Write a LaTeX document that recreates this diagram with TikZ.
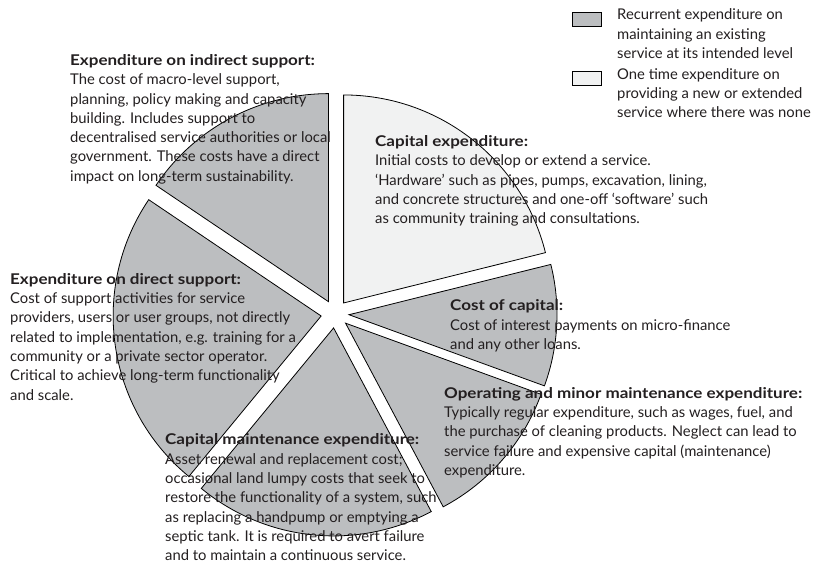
\documentclass[tikz,border=0pt]{standalone}
\usepackage{fontspec}
\setmainfont{Lato}
\usepackage{tikz}
\usetikzlibrary{calc}
\usepackage{xcolor}
\definecolor{recurrent}{RGB}{188,190,192}
\definecolor{onetime}{RGB}{241,242,242}
\definecolor{ink}{RGB}{35,31,32}
% headings are set a little wider than plain Lato bold
\newcommand{\costhead}[1]{{\bfseries\addfontfeature{FakeStretch=1.15}#1}}

\begin{document}
\begin{tikzpicture}[x=1pt, y=1pt,
    wedge/.style={draw=black, line width=0.8pt, line join=miter},
    costtext/.style={anchor=base west, inner sep=0pt, align=left, text=ink,
      font=\fontsize{14.8}{19.3}\selectfont},
    keybox/.style={draw=black, line width=0.8pt, minimum width=29pt,
      minimum height=14pt, inner sep=0pt}]
    \useasboundingbox (0,0) rectangle (815,564);

    % pie centre; every wedge is pushed 14pt out along its bisector
    \coordinate (c) at (335,250);

    % capital expenditure (one time)
    \filldraw[wedge, fill=onetime] ($(c)+(52:14pt)$) -- ++(14:208pt)
      arc[start angle=14, end angle=90, radius=208pt] -- cycle;
    % indirect support
    \filldraw[wedge, fill=recurrent] ($(c)+(118:14pt)$) -- ++(90:208pt)
      arc[start angle=90, end angle=146, radius=208pt] -- cycle;
    % direct support
    \filldraw[wedge, fill=recurrent] ($(c)+(188.25:14pt)$) -- ++(146:208pt)
      arc[start angle=146, end angle=230.5, radius=208pt] -- cycle;
    % capital maintenance
    \filldraw[wedge, fill=recurrent] ($(c)+(264.25:14pt)$) -- ++(230.5:208pt)
      arc[start angle=230.5, end angle=298, radius=208pt] -- cycle;
    % operating and minor maintenance
    \filldraw[wedge, fill=recurrent] ($(c)+(319:14pt)$) -- ++(298:208pt)
      arc[start angle=298, end angle=340, radius=208pt] -- cycle;
    % cost of capital
    \filldraw[wedge, fill=recurrent] ($(c)+(357:14pt)$) -- ++(340:208pt)
      arc[start angle=340, end angle=374, radius=208pt] -- cycle;

    % descriptions (anchored on the baseline of their last line)
    \node[costtext] (indirect) at (70,382.7) {\costhead{Expenditure on indirect support:}\\
      The cost of macro-level support,\\
      planning, policy making and capacity\\
      building. Includes support to\\
      decentralised service authorities or local\\
      government. These costs have a direct\\
      impact on long-term sustainability.};
    \node[costtext] (capex) at (375,340.3) {\costhead{Capital expenditure:}\\
      Initial costs to develop or extend a service.\\
      ‘Hardware’ such as pipes, pumps, excavation, lining,\\
      and concrete structures and one-off ‘software’ such\\
      as community training and consultations.};
    \node[costtext] (direct) at (10,163.9) {\costhead{Expenditure on direct support:}\\
      Cost of support activities for service\\
      providers, users or user groups, not directly\\
      related to implementation, e.g. training for a\\
      community or a private sector operator.\\
      Critical to achieve long-term functionality\\
      and scale.};
    \node[costtext] (capcost) at (450,214.4) {\costhead{Cost of capital:}\\
      Cost of interest payments on micro-finance\\
      and any other loans.};
    \node[costtext] (opex) at (444,88.5) {\costhead{Operating and minor maintenance expenditure:}\\
      Typically regular expenditure, such as wages, fuel, and\\
      the purchase of cleaning products. Neglect can lead to\\
      service failure and expensive capital (maintenance)\\
      expenditure.};
    \node[costtext] (capmain) at (165,3.2) {\costhead{Capital maintenance expenditure:}\\
      Asset renewal and replacement cost;\\
      occasional land lumpy costs that seek to\\
      restore the functionality of a system, such\\
      as replacing a handpump or emptying a\\
      septic tank. It is required to avert failure\\
      and to maintain a continuous service.};

    % key
    \node[keybox, fill=recurrent] (keyrec) at (587.2,544.3) {};
    \node[keybox, fill=onetime] (keyone) at (587.2,485.3) {};
    \node[costtext] (keyrectext) at (617,505.4) {Recurrent expenditure on\\
      maintaining an existing\\
      service at its intended level};
    \node[costtext] (keyonetext) at (617,446.1) {One time expenditure on\\
      providing a new or extended\\
      service where there was none};
\end{tikzpicture}
\end{document}
